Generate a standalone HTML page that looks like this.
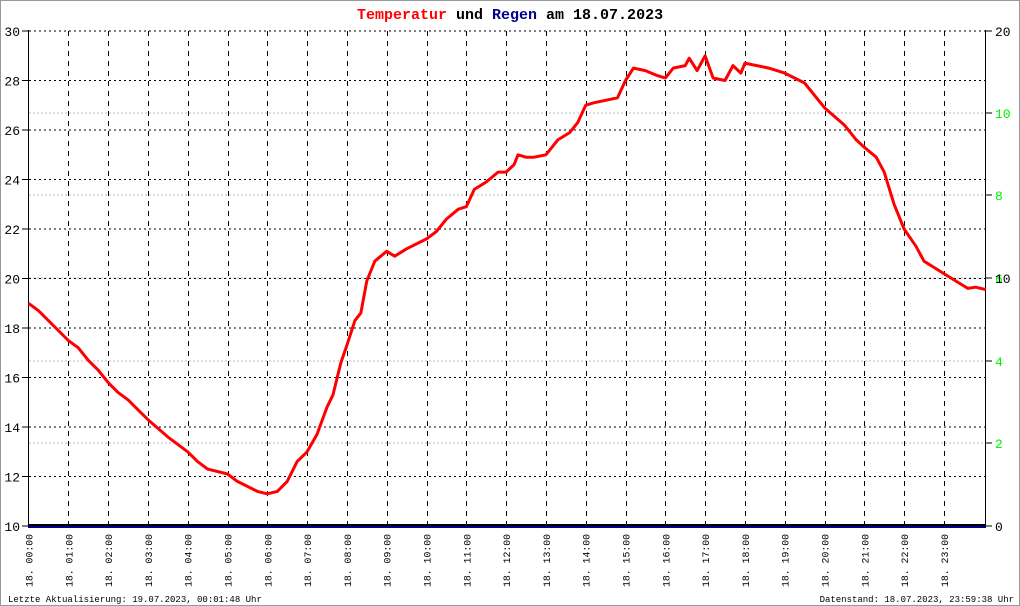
<!DOCTYPE html>
<html><head><meta charset="utf-8"><style>
html,body{margin:0;padding:0;background:#fff}
svg{display:block}
text{font-family:"Liberation Mono",monospace}
</style></head><body>
<svg id="s" width="1020" height="606" xmlns="http://www.w3.org/2000/svg">
<rect x="0.5" y="0.5" width="1019" height="605" fill="#fff" stroke="#999"/>
<text x="357" y="19" font-size="15" font-weight="bold"><tspan fill="#f00">Temperatur</tspan><tspan fill="#000"> und </tspan><tspan fill="#00008b">Regen</tspan><tspan fill="#000"> am 18.07.2023</tspan></text>
<g id="g"></g>
<text x="8" y="602" font-size="9">Letzte Aktualisierung: 19.07.2023, 00:01:48 Uhr</text>
<text x="1014" y="602" font-size="9" text-anchor="end">Datenstand: 18.07.2023, 23:59:38 Uhr</text>
</svg>
<script>
var g=document.getElementById('g'),h='';
var X0=28.5,DX=39.8,Y0=526,DY=24.75;
function X(t){return X0+DX*t}function Y(T){return Y0-DY*(T-10)}
[113,195,278,361,443].forEach(function(y){h+='<line x1="29" x2="985" y1="'+y+'" y2="'+y+'" stroke="#bbb" stroke-dasharray="2,2"/>';});
for(var T=12;T<=30;T+=2){var y=Y(T);h+='<line x1="29" x2="985" y1="'+y+'" y2="'+y+'" stroke="#000" stroke-dasharray="2,3"/>';}
for(var t=1;t<24;t++){var x=Math.round(X(t))+0.5;h+='<line x1="'+x+'" x2="'+x+'" y1="31" y2="526" stroke="#000" stroke-dasharray="5,5"/>';}
for(var T=10;T<=30;T+=2){h+='<text x="20" y="'+(Y(T)+5)+'" font-size="13" text-anchor="end">'+T+'</text>';h+='<line x1="22" x2="28" y1="'+Y(T)+'" y2="'+Y(T)+'" stroke="#000"/>';}
var rl=[[31,'20','#000'],[113,'10','#0e0'],[195,'8','#0e0'],[278,'6','#0e0'],[278,'10','#000'],[361,'4','#0e0'],[443,'2','#0e0'],[526,'0','#000']];
rl.forEach(function(r){h+='<line x1="985" x2="992" y1="'+r[0]+'" y2="'+r[0]+'" stroke="#000"/><text x="995" y="'+(r[0]+5)+'" font-size="13" fill="'+r[2]+'">'+r[1]+'</text>';});
h+='<line x1="28.5" x2="28.5" y1="30" y2="526" stroke="#000"/><line x1="985.5" x2="985.5" y1="30" y2="527" stroke="#000"/>';
h+='<rect x="28" y="524" width="958" height="2" fill="#000"/><rect x="28" y="526" width="958" height="2" fill="#00008b"/>';
for(var t=0;t<24;t++){var x=X(t)+4;var s='18. '+(t<10?'0':'')+t+':00';h+='<text transform="translate('+x+',587) rotate(-90)" font-size="10" textLength="53" lengthAdjust="spacingAndGlyphs">'+s+'</text>';}
var d=[[0,19.0],[0.25,18.7],[0.5,18.3],[0.75,17.9],[1,17.5],[1.25,17.2],[1.5,16.7],[1.75,16.3],[2,15.8],[2.25,15.4],[2.5,15.1],[2.75,14.7],[3,14.3],[3.5,13.6],[4,13.0],[4.25,12.6],[4.5,12.3],[5,12.1],[5.25,11.8],[5.5,11.6],[5.75,11.4],[6,11.3],[6.25,11.4],[6.5,11.8],[6.75,12.6],[7,13.0],[7.25,13.7],[7.5,14.8],[7.65,15.3],[7.85,16.6],[8,17.3],[8.2,18.3],[8.35,18.6],[8.5,19.9],[8.7,20.7],[8.85,20.9],[9,21.1],[9.2,20.9],[9.5,21.2],[10,21.6],[10.25,21.9],[10.5,22.4],[10.8,22.8],[11,22.9],[11.2,23.6],[11.5,23.9],[11.8,24.3],[12,24.3],[12.2,24.6],[12.3,25.0],[12.5,24.9],[12.7,24.9],[13,25.0],[13.3,25.6],[13.6,25.9],[13.8,26.3],[14,27.0],[14.2,27.1],[14.5,27.2],[14.8,27.3],[15,28.0],[15.2,28.5],[15.5,28.4],[15.8,28.2],[16,28.1],[16.2,28.5],[16.5,28.6],[16.6,28.9],[16.8,28.4],[17,29.0],[17.2,28.1],[17.5,28.0],[17.7,28.6],[17.9,28.3],[18,28.7],[18.3,28.6],[18.6,28.5],[19,28.3],[19.5,27.9],[19.8,27.3],[20,26.9],[20.5,26.2],[20.8,25.6],[21,25.3],[21.3,24.9],[21.5,24.3],[21.75,23.0],[22,22.0],[22.3,21.3],[22.5,20.7],[22.8,20.4],[23,20.2],[23.3,19.9],[23.6,19.6],[23.8,19.65],[24.05,19.55]];
var p=d.map(function(a){return X(a[0]).toFixed(1)+','+Y(a[1]).toFixed(1)}).join(' ');
h+='<polyline points="'+p+'" fill="none" stroke="#f00" stroke-width="3" stroke-linejoin="round"/>';
g.innerHTML=h;
</script>
</body></html>
